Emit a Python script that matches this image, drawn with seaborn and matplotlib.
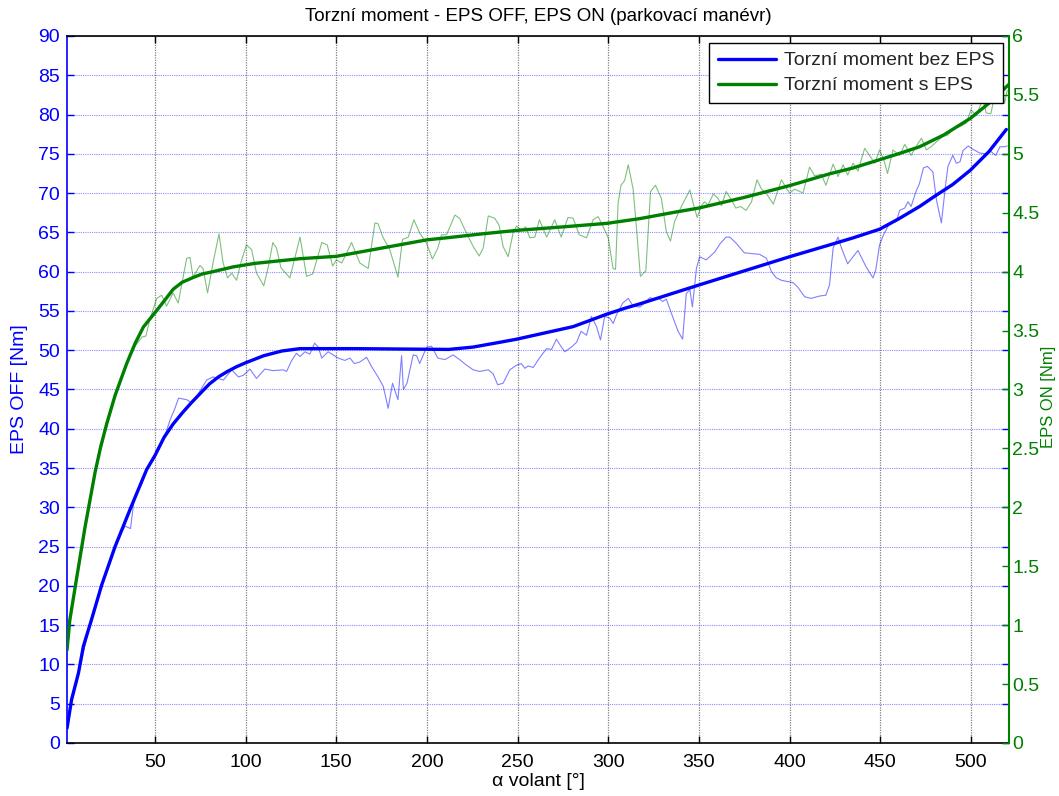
import matplotlib
matplotlib.use("Agg")
import matplotlib.pyplot as plt
import seaborn as sns
import numpy as np
from matplotlib.lines import Line2D

# ---------------- data ----------------
title = "Torzní moment - EPS OFF, EPS ON (parkovací manévr)"
legend_labels = ["Torzní moment bez EPS", "Torzní moment s EPS"]
x_label = "α volant [°]"
left_label = "EPS OFF [Nm]"
right_label = "EPS ON [Nm]"

x_ticks = [50, 100, 150, 200, 250, 300, 350, 400, 450, 500]
left_ticks = [0, 5, 10, 15, 20, 25, 30, 35, 40, 45, 50, 55, 60, 65, 70, 75, 80, 85, 90]
right_ticks = [0, 0.5, 1, 1.5, 2, 2.5, 3, 3.5, 4, 4.5, 5, 5.5, 6]
right_tick_labels = ["0", "0.5", "1", "1.5", "2", "2.5", "3", "3.5", "4", "4.5", "5", "5.5", "6"]

# smooth curve without EPS (left axis, Nm)
off_smooth_x = [1.5, 4, 7.8, 10.5, 15, 20.6, 28, 36.2, 45.4, 50, 55, 60, 65, 70, 75, 80, 85,
                90, 95, 100, 110, 120, 130, 160, 212, 225.5, 240, 249.4, 265, 280.6, 290,
                299.3, 310, 317.4, 335, 350, 375, 400, 422, 435, 449.6, 460, 471.7, 480, 490,
                499.6, 510, 519.5]
off_smooth_y = [1.9, 5.5, 8.9, 12.3, 15.7, 20.1, 25.0, 29.7, 34.8, 36.6, 38.9, 40.6, 42.0, 43.3,
                44.5, 45.7, 46.6, 47.3, 47.9, 48.4, 49.3, 49.9, 50.2, 50.2, 50.1, 50.4, 51.0,
                51.4, 52.2, 53.0, 53.8, 54.6, 55.4, 55.9, 57.2, 58.3, 60.1, 61.9, 63.4, 64.3,
                65.4, 66.7, 68.3, 69.6, 71.1, 72.9, 75.3, 78.1]

# raw measurement without EPS (left axis, Nm)
off_raw_x = [1.5, 4, 8, 11, 15, 20, 25, 29, 33.5, 36.5, 38.5, 45, 50, 56, 58.3, 61, 63, 67.5, 70.2,
             74, 78.5, 82, 87.7, 92.3, 96, 98.7, 102.4, 106, 110.6, 115.2, 120.7, 122.6, 125.4,
             128, 130, 132.7, 135.4, 138, 140, 142, 145.5, 148.3, 151, 154.7, 157.5, 160, 163,
             166.7, 169.5, 173, 175.9, 178.6, 181, 184, 186, 187, 189, 192.4, 194.3, 196, 199.8,
             202.5, 206, 209.9, 214.4, 218, 221.8, 225.5, 229, 233.8, 236.5, 239, 242, 245.7,
             249.4, 252, 254, 255.8, 258.6, 262, 266, 268.7, 271.4, 273.3, 276, 279.7, 282.5,
             285, 288, 290.7, 293.5, 295.7, 298, 300.8, 302.7, 304.5, 308, 311, 313.7, 317.4,
             320, 323, 325.6, 328, 329.9, 332, 334.8, 338.5, 341, 343, 345, 346.4, 348.6, 350.4,
             354, 358.7, 361.8, 365, 367, 370.6, 375, 383.5, 387.2, 390, 392.7, 395.5, 401.9,
             404.6, 408.3, 412, 416.6, 420, 422, 424, 426.7, 428.6, 432, 437.7, 442.2, 446,
             447.5, 449.6, 452, 455, 458.9, 460.7, 463.5, 465.3, 467, 469.7, 471.6, 473.8, 476,
             479, 481, 483.7, 485.9, 487.3, 490, 492, 494, 495.6, 498.5, 501, 504.8, 508.5, 511,
             513.7, 516, 518.6, 520]
off_raw_y = [2.2, 6.0, 9.0, 12.0, 16.0, 19.8, 23.0, 25.8, 27.6, 27.3, 31.0, 34.6, 36.6, 39.5, 41.1,
             42.6, 43.9, 43.7, 43.3, 44.5, 46.2, 46.6, 46.2, 47.5, 46.6, 46.8, 47.6, 46.4, 47.6,
             47.4, 47.5, 47.3, 48.7, 49.6, 49.2, 49.8, 49.5, 50.9, 50.4, 49.0, 49.8, 49.4, 49.0,
             48.7, 49.0, 48.3, 48.5, 49.1, 47.9, 46.6, 45.4, 42.6, 45.8, 43.7, 49.3, 45.0, 45.8,
             49.4, 49.3, 48.3, 50.4, 50.5, 49.0, 48.8, 49.4, 48.8, 48.1, 47.5, 47.3, 47.5, 47.0,
             45.6, 45.8, 47.5, 48.1, 48.3, 47.7, 48.0, 47.8, 49.0, 50.2, 50.1, 51.4, 50.7, 49.8,
             50.4, 51.0, 52.4, 51.9, 54.3, 53.0, 51.3, 54.3, 54.1, 53.4, 54.5, 56.0, 56.6, 55.6,
             55.5, 56.0, 56.7, 56.5, 56.6, 56.2, 56.5, 54.7, 52.4, 51.4, 57.2, 57.7, 55.5, 60.4,
             61.9, 61.5, 62.5, 63.6, 64.4, 64.4, 63.6, 62.4, 62.2, 61.7, 60.0, 59.2, 58.9, 58.6,
             58.0, 56.8, 56.6, 56.9, 57.0, 58.3, 63.0, 64.4, 63.0, 61.0, 62.7, 60.6, 59.2, 60.2,
             63.4, 64.8, 66.1, 66.4, 67.8, 68.1, 68.9, 68.3, 70.2, 71.2, 73.2, 73.4, 72.7, 69.1,
             66.2, 70.8, 73.4, 74.8, 73.8, 74.0, 75.4, 76.0, 75.6, 75.1, 75.0, 75.3, 74.8, 75.9,
             75.9, 76.0]

# smooth curve with EPS (right axis, Nm)
on_smooth_x = [1.5, 3, 6.8, 11.4, 17, 20, 23.4, 28, 34.4, 39, 43.6, 50.4, 55, 60, 65, 71, 76, 82,
               93, 105, 130, 150, 175, 200, 212.6, 230, 249.4, 275, 299.3, 317.4, 335, 350, 375,
               400, 422, 435, 449.6, 460, 471.7, 485, 499.6, 510, 521]
on_smooth_y = [0.79, 1.04, 1.40, 1.83, 2.30, 2.51, 2.71, 2.95, 3.22, 3.39, 3.53, 3.66, 3.75, 3.85,
               3.91, 3.95, 3.98, 4.00, 4.04, 4.07, 4.11, 4.13, 4.20, 4.27, 4.29, 4.32, 4.35, 4.38,
               4.41, 4.45, 4.50, 4.54, 4.63, 4.73, 4.83, 4.88, 4.95, 5.00, 5.06, 5.16, 5.30,
               5.43, 5.59]

# raw measurement with EPS (right axis, Nm)
on_raw_x = [1.5, 3, 7, 11.4, 17, 23, 28, 31, 35, 39, 43, 45, 47, 51, 53.7, 56.4, 60, 62.8, 67.5,
            69.3, 71, 74.8, 76.5, 79, 82, 85.3, 87.5, 90, 92.3, 95, 97.8, 100.5, 103.3, 106, 110,
            112.5, 115, 117, 119.5, 124.4, 130, 133.6, 137, 142, 145, 148, 150, 153, 158.4, 163,
            167.6, 171.3, 173, 175.7, 179.5, 184, 186.5, 189.7, 192.8, 196, 199.8, 203, 206, 208,
            210.8, 215.4, 218, 221, 225.5, 228.8, 231, 233.8, 237.4, 239.8, 242, 244.8, 247.5,
            249.4, 252, 254.5, 256.7, 259.5, 262, 266, 270.5, 274, 277.8, 280.6, 284, 288, 291.6,
            294.4, 297, 300, 302.6, 304, 305.4, 307, 309, 311, 313.7, 315.5, 317.7, 320.7, 323.3,
            326, 329.3, 332, 334.3, 336.6, 340.3, 345, 346.8, 349, 351.4, 353, 355, 358, 360.6,
            362.4, 365, 368, 370.3, 373, 376, 379, 382, 384.5, 387, 391, 395.5, 398, 400, 402.8,
            407.4, 411, 413.8, 417.5, 420, 424, 426.7, 429.5, 432, 435, 437.7, 441.4, 444, 447,
            449.6, 452, 454, 457, 460.7, 463.5, 467, 469.7, 472.7, 475.4, 478, 481.8, 484.6,
            487.3, 490, 494, 497.4, 500, 503, 506.6, 508.4, 511, 514, 516.8, 518.6, 520]
on_raw_y = [0.787, 1.053, 1.40, 1.82, 2.30, 2.667, 2.933, 3.067, 3.233, 3.367, 3.447, 3.453,
            3.587, 3.773, 3.80, 3.707, 3.82, 3.733, 4.113, 4.12, 3.953, 4.053, 4.027, 3.82, 4.073,
            4.32, 4.08, 3.947, 3.987, 3.927, 4.10, 4.227, 4.187, 3.987, 3.88, 4.04, 4.247, 4.20,
            4.033, 3.947, 4.293, 3.96, 3.98, 4.247, 4.227, 4.047, 4.10, 4.073, 4.247, 4.073,
            4.027, 4.413, 4.407, 4.293, 4.187, 3.953, 4.273, 4.293, 4.44, 4.327, 4.24, 4.107,
            4.20, 4.313, 4.313, 4.48, 4.453, 4.353, 4.213, 4.133, 4.20, 4.473, 4.453, 4.393,
            4.213, 4.127, 4.327, 4.387, 4.353, 4.38, 4.287, 4.293, 4.44, 4.293, 4.44, 4.293,
            4.46, 4.453, 4.313, 4.287, 4.44, 4.467, 4.387, 4.287, 4.027, 4.02, 4.58, 4.733,
            4.773, 4.907, 4.70, 4.38, 3.96, 4.007, 4.68, 4.733, 4.62, 4.34, 4.26, 4.427, 4.553,
            4.693, 4.58, 4.46, 4.56, 4.593, 4.567, 4.66, 4.62, 4.56, 4.68, 4.607, 4.54, 4.553,
            4.52, 4.593, 4.78, 4.70, 4.667, 4.573, 4.78, 4.713, 4.667, 4.70, 4.667, 4.887, 4.813,
            4.827, 4.733, 4.913, 4.807, 4.907, 4.82, 4.92, 4.853, 5.047, 4.987, 4.92, 5.033,
            4.947, 4.833, 5.033, 4.987, 5.08, 4.987, 5.06, 5.133, 5.033, 5.06, 5.113, 5.147,
            5.16, 5.207, 5.233, 5.26, 5.373, 5.327, 5.467, 5.347, 5.34, 5.567, 5.633, 5.427,
            5.54]

# ---------------- style ----------------
sns.set_style("white")
plt.rcParams['font.family'] = ['Liberation Sans', 'DejaVu Sans']

BLUE = "#0000ff"
GREEN = "#008000"
FS_TICK = 14
FS_LABEL = 14
FS_TITLE = 13.5
FS_LEG = 14

fig = plt.figure(figsize=(10.59, 7.96), dpi=100)
ax = fig.add_axes([0.0633, 0.0666, 0.8895, 0.8882])
ax2 = ax.twinx()

# ---------------- plotting ----------------
sns.lineplot(x=off_raw_x, y=off_raw_y, ax=ax, color=BLUE, lw=0.8, alpha=0.5,
             sort=False, estimator=None, zorder=2)
sns.lineplot(x=off_smooth_x, y=off_smooth_y, ax=ax, color=BLUE, lw=2.4,
             sort=False, estimator=None, zorder=3)
sns.lineplot(x=on_raw_x, y=on_raw_y, ax=ax2, color=GREEN, lw=0.8, alpha=0.5,
             sort=False, estimator=None, zorder=2)
sns.lineplot(x=on_smooth_x, y=on_smooth_y, ax=ax2, color=GREEN, lw=2.4,
             sort=False, estimator=None, zorder=3)

ax.set_xlim(1.5, 521)
ax.set_ylim(0, 90)
ax2.set_ylim(0, 6)

ax.set_xticks(x_ticks)
ax.set_xticklabels([str(t) for t in x_ticks], fontsize=FS_TICK, color="black")
ax.set_yticks(left_ticks)
ax.set_yticklabels([str(t) for t in left_ticks], fontsize=FS_TICK, color=BLUE)
ax2.set_yticks(right_ticks)
ax2.set_yticklabels(right_tick_labels, fontsize=FS_TICK, color=GREEN)

# grids
ax.grid(axis='y', color="#6666ff", lw=0.8, ls=(0, (1, 1)), alpha=0.75)
ax.grid(axis='x', color="#808080", lw=0.9, ls=(0, (1, 1)))
ax.set_axisbelow(True)

# ticks (MATLAB style: inward, mirrored)
ax.tick_params(axis='x', direction='in', length=5, width=1, top=True, bottom=True,
               colors="black", labelcolor="black", pad=8)
ax.tick_params(axis='y', direction='in', length=5, width=1, left=True, right=True,
               labelright=False, colors=BLUE, labelcolor=BLUE, pad=5)
ax2.tick_params(axis='y', direction='in', length=5, width=1, right=True,
                colors=GREEN, labelcolor=GREEN, pad=2.5)

# spines
for s in ["top", "bottom"]:
    ax.spines[s].set_color("black")
    ax.spines[s].set_linewidth(1.2)
ax.spines["left"].set_color(BLUE)
ax.spines["left"].set_linewidth(1.2)
ax.spines["right"].set_visible(False)
for s in ["top", "bottom", "left"]:
    ax2.spines[s].set_visible(False)
ax2.spines["right"].set_color(GREEN)
ax2.spines["right"].set_linewidth(1.5)

# labels
ax.set_title(title, fontsize=FS_TITLE, color="black", pad=11)
ax.set_xlabel(x_label, fontsize=FS_LABEL, color="black")
ax.xaxis.set_label_coords(0.5, -0.042)
ax.set_ylabel(left_label, fontsize=FS_LABEL, color=BLUE)
ax.yaxis.set_label_coords(-0.041, 0.5)
ax2.set_ylabel(right_label, fontsize=12, color=GREEN, rotation=90)
ax2.yaxis.set_label_coords(1.0335, 0.49)

# legend
handles = [Line2D([0], [0], color=BLUE, lw=2.4), Line2D([0], [0], color=GREEN, lw=2.4)]
leg = ax2.legend(handles, legend_labels, loc="upper right", bbox_to_anchor=(0.9936, 0.990),
                 borderaxespad=0, fancybox=False, framealpha=1, edgecolor="black",
                 fontsize=FS_LEG, handlelength=3.0, handletextpad=0.4, labelspacing=0.38,
                 borderpad=0.45)
leg.get_frame().set_linewidth(1.0)

fig.savefig("out.png", dpi=100, facecolor="white")
